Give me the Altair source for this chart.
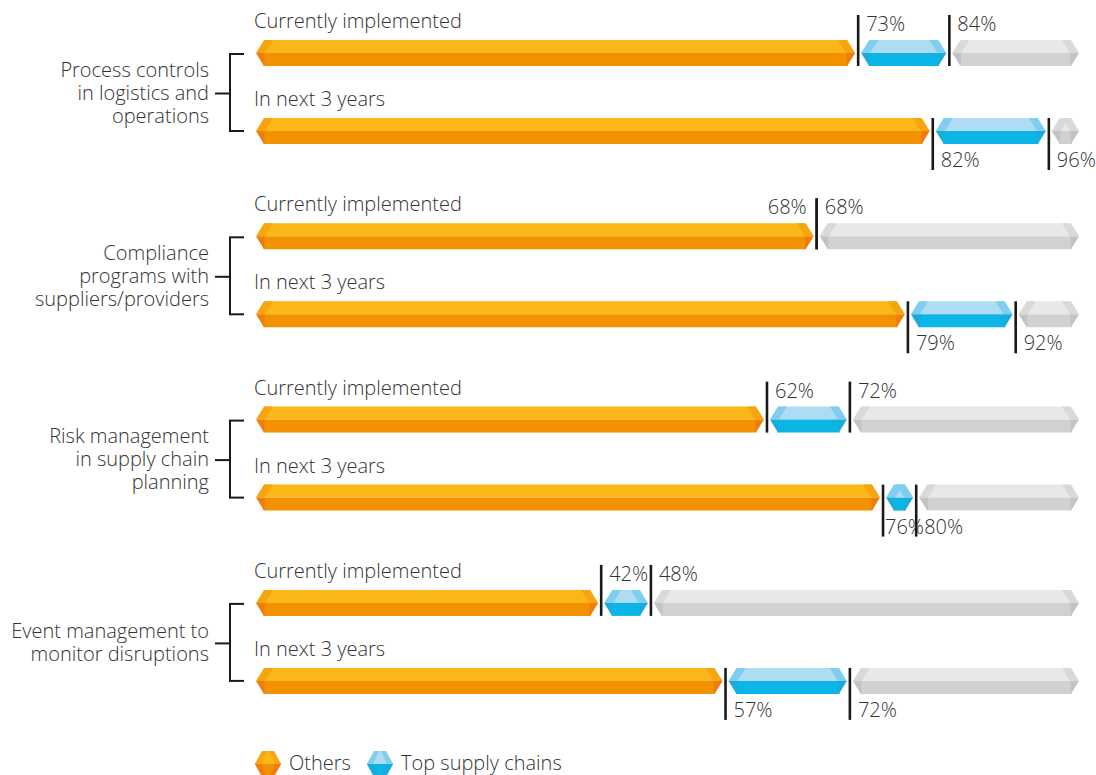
import altair as alt
import pandas as pd

# ---------------- data ----------------
group_labels = [
    "Process controls\nin logistics and\noperations",
    "Compliance\nprograms with\nsuppliers/providers",
    "Risk management\nin supply chain\nplanning",
    "Event management to\nmonitor disruptions",
]
row_labels = ["Currently implemented", "In next 3 years"]
others_now = [73, 68, 62, 42]
top_now = [84, 68, 72, 48]
others_next = [82, 79, 76, 57]
top_next = [96, 92, 80, 72]
legend_names = ["Others", "Top supply chains"]
legend_kinds = ["others", "top"]

# ---------------- styles / layout ----------------
PAL = {
    "others": dict(light="#FBB617", edge="#F6A50E", dark="#F39200", cap="#EE7D0D"),
    "top": dict(light="#ADDCF3", edge="#7FCDEF", dark="#0BB5E6", cap="#19ABDC"),
    "rest": dict(light="#E8E8E8", edge="#D9D9D9", dark="#D0D1D3", cap="#C2C3C4"),
}
W, H = 1096, 775
FIRST_ROW_Y = 53
ROW_STEP = 78
GROUP_STEP = 183.3
HALF = 13
GAP = 3
FONT = "Open Sans"
FW = 300
FS = 20
TXT = "#333333"
LINE = "#1a1a1a"
LH = 23

X = alt.Scale(domain=[0, 100], range=[253, 1082], nice=False, zero=False)
Y = alt.Scale(domain=[0, H], range=[0, H], nice=False, zero=False)

# ---------------- tables ----------------
seg_rows, bound_rows, row_rows, grp_rows, grp_line_rows = [], [], [], [], []
for g in range(len(group_labels)):
    vals = [(others_now[g], top_now[g]), (others_next[g], top_next[g])]
    ycs = []
    for r, (o, t) in enumerate(vals):
        yc = FIRST_ROW_Y + g * GROUP_STEP + r * ROW_STEP
        ycs.append(yc)
        for s, e, k in [(0, o, "others"), (o, t, "top"), (t, 100, "rest")]:
            if e > s:
                seg_rows.append(dict(g=g, r=r, yc=yc, start=s, end=e, kind=k, **PAL[k]))
        for k, v in [("others", o), ("top", t)]:
            if k == "others" and o == t:
                side = "left"
            elif k == "others" and t - o < 6:
                side = "tight"
            else:
                side = "right"
            bound_rows.append(dict(g=g, r=r, yc=yc, val=v, side=side, label=f"{v}%"))
        row_rows.append(dict(g=g, r=r, yc=yc, zero=0, label=row_labels[r]))
    ymid = (ycs[0] + ycs[1]) / 2 + 1.5
    lines = group_labels[g].split("\n")
    y0 = ymid - (len(lines) - 1) * LH / 2
    for i, ln in enumerate(lines):
        grp_line_rows.append(dict(g=g, i=i, label=ln, ytext=y0 + i * LH))
    grp_rows.append(dict(g=g, ytop=ycs[0] + 1, ybot=ycs[1], ymid=ymid))

seg_df = pd.DataFrame(seg_rows)
bound_df = pd.DataFrame(bound_rows)
row_df = pd.DataFrame(row_rows)
grp_df = pd.DataFrame(grp_rows)
grp_line_df = pd.DataFrame(grp_line_rows)

layers = []
seg = alt.Chart(seg_df)
xs = alt.X("start:Q", scale=X, axis=None)
ys = alt.Y("yc:Q", scale=Y, axis=None)

# top half (light band)
layers.append(seg.mark_rect(xOffset=GAP + 9, x2Offset=-(GAP + 9), yOffset=-HALF, y2Offset=0).encode(
    x=xs, x2="end:Q", y=ys, y2="yc:Q", color=alt.Color("light:N", scale=None)))
# bottom half
layers.append(seg.mark_rect(xOffset=GAP + 7.5, x2Offset=-(GAP + 7.5), yOffset=0, y2Offset=HALF).encode(
    x=xs, x2="end:Q", y=ys, y2="yc:Q", color=alt.Color("dark:N", scale=None)))

U = 1.0 / HALF
def p(v):
    return f"{v * U:.3f}"

LT = f"M0,0 L{p(8)},-1 L{p(17)},-1 L{p(9)},0 Z"
RT = f"M0,0 L{p(-8)},-1 L{p(-17)},-1 L{p(-9)},0 Z"
LB = f"M0,0 L{p(8.5)},0 L{p(8.5)},1 L{p(8)},1 Z"
RB = f"M0,0 L{p(-8.5)},0 L{p(-8.5)},1 L{p(-8)},1 Z"
SIZE = (2 * HALF) ** 2

def cap(shape, field, col, off):
    return seg.mark_point(shape=shape, size=SIZE, filled=True, opacity=1, strokeWidth=0, xOffset=off).encode(
        x=alt.X(f"{field}:Q", scale=X, axis=None), y=ys, color=alt.Color(f"{col}:N", scale=None))

layers += [
    cap(LT, "start", "edge", GAP), cap(RT, "end", "edge", -GAP),
    cap(LB, "start", "cap", GAP), cap(RB, "end", "cap", -GAP),
]

# boundary lines
bnd = alt.Chart(bound_df)
bx = alt.X("val:Q", scale=X, axis=None)
layers.append(bnd.mark_rule(yOffset=-38, y2Offset=HALF, strokeWidth=2.6, color=LINE).encode(
    x=bx, y=ys, y2="yc:Q").transform_filter("datum.r == 0"))
layers.append(bnd.mark_rule(yOffset=-HALF, y2Offset=39, strokeWidth=2.6, color=LINE).encode(
    x=bx, y=ys, y2="yc:Q").transform_filter("datum.r == 1"))

# percent labels
def pct(r, side, dx, dy, align):
    return bnd.mark_text(align=align, baseline="middle", dx=dx, dy=dy, font=FONT, fontWeight=FW,
                         fontSize=FS, color=TXT).encode(
        x=bx, y=ys, text="label:N").transform_filter(f"datum.r == {r} && datum.side == '{side}'")

for r, dy in [(0, -28), (1, 30)]:
    layers += [pct(r, "right", 8, dy, "left"), pct(r, "left", -10, dy, "right"),
               pct(r, "tight", 2, dy, "left")]

# row labels
layers.append(alt.Chart(row_df).mark_text(align="left", baseline="middle", dx=1, dy=-31, font=FONT,
                                           fontWeight=FW, fontSize=FS, color=TXT).encode(
    x=alt.X("zero:Q", scale=X, axis=None), y=ys, text="label:N"))

# group labels and brackets
layers.append(alt.Chart(grp_line_df).mark_text(align="right", baseline="middle", font=FONT,
                                                fontWeight=FW, fontSize=FS, color=TXT).encode(
    x=alt.value(209), y=alt.Y("ytext:Q", scale=Y, axis=None), text="label:N"))
grp = alt.Chart(grp_df)
layers.append(grp.mark_rule(strokeWidth=2, color=LINE).encode(
    x=alt.value(230), y=alt.Y("ytop:Q", scale=Y, axis=None), y2="ybot:Q"))
layers.append(grp.mark_rule(strokeWidth=2, color=LINE).encode(
    x=alt.value(229), x2=alt.value(244), y=alt.Y("ytop:Q", scale=Y, axis=None)))
layers.append(grp.mark_rule(strokeWidth=2, color=LINE).encode(
    x=alt.value(229), x2=alt.value(244), y=alt.Y("ybot:Q", scale=Y, axis=None)))
layers.append(grp.mark_rule(strokeWidth=2, color=LINE).encode(
    x=alt.value(215), x2=alt.value(230), y=alt.Y("ymid:Q", scale=Y, axis=None)))

# legend
LEG_X = [268, 380]
LEG_Y = 764
HT = "M-1,0 L-0.45,-1 L0.45,-1 L1,0 Z"
HB = "M-1,0 L-0.45,1 L0.45,1 L1,0 Z"
HLT = "M-1,0 L-0.45,-1 L-0.1,-1 L-0.55,0 Z"
HRT = "M1,0 L0.45,-1 L0.1,-1 L0.55,0 Z"
HLB = "M-1,0 L-0.45,1 L-0.1,1 L-0.55,0 Z"
HRB = "M1,0 L0.45,1 L0.1,1 L0.55,0 Z"
for name, kind, lx in zip(legend_names, legend_kinds, LEG_X):
    ld = alt.Chart(pd.DataFrame({"name": [name]}))
    for shape, col in [(HT, "light"), (HB, "dark"), (HLT, "edge"), (HRT, "edge"), (HLB, "cap"), (HRB, "cap")]:
        layers.append(ld.mark_point(shape=shape, size=SIZE, filled=True, opacity=1, strokeWidth=0).encode(
            x=alt.value(lx), y=alt.value(LEG_Y), color=alt.value(PAL[kind][col])))
    layers.append(ld.mark_text(align="left", baseline="middle", font=FONT, fontWeight=FW, fontSize=FS,
                               color=TXT).encode(
        x=alt.value(lx + 21), y=alt.value(LEG_Y), text="name:N"))

chart = alt.layer(*layers).properties(
    width=W, height=H, padding=0, autosize=alt.AutoSizeParams(type="none"), background="white"
).configure_view(strokeWidth=0)

chart.save("out.html", embed_options={"renderer": "svg", "actions": False})
